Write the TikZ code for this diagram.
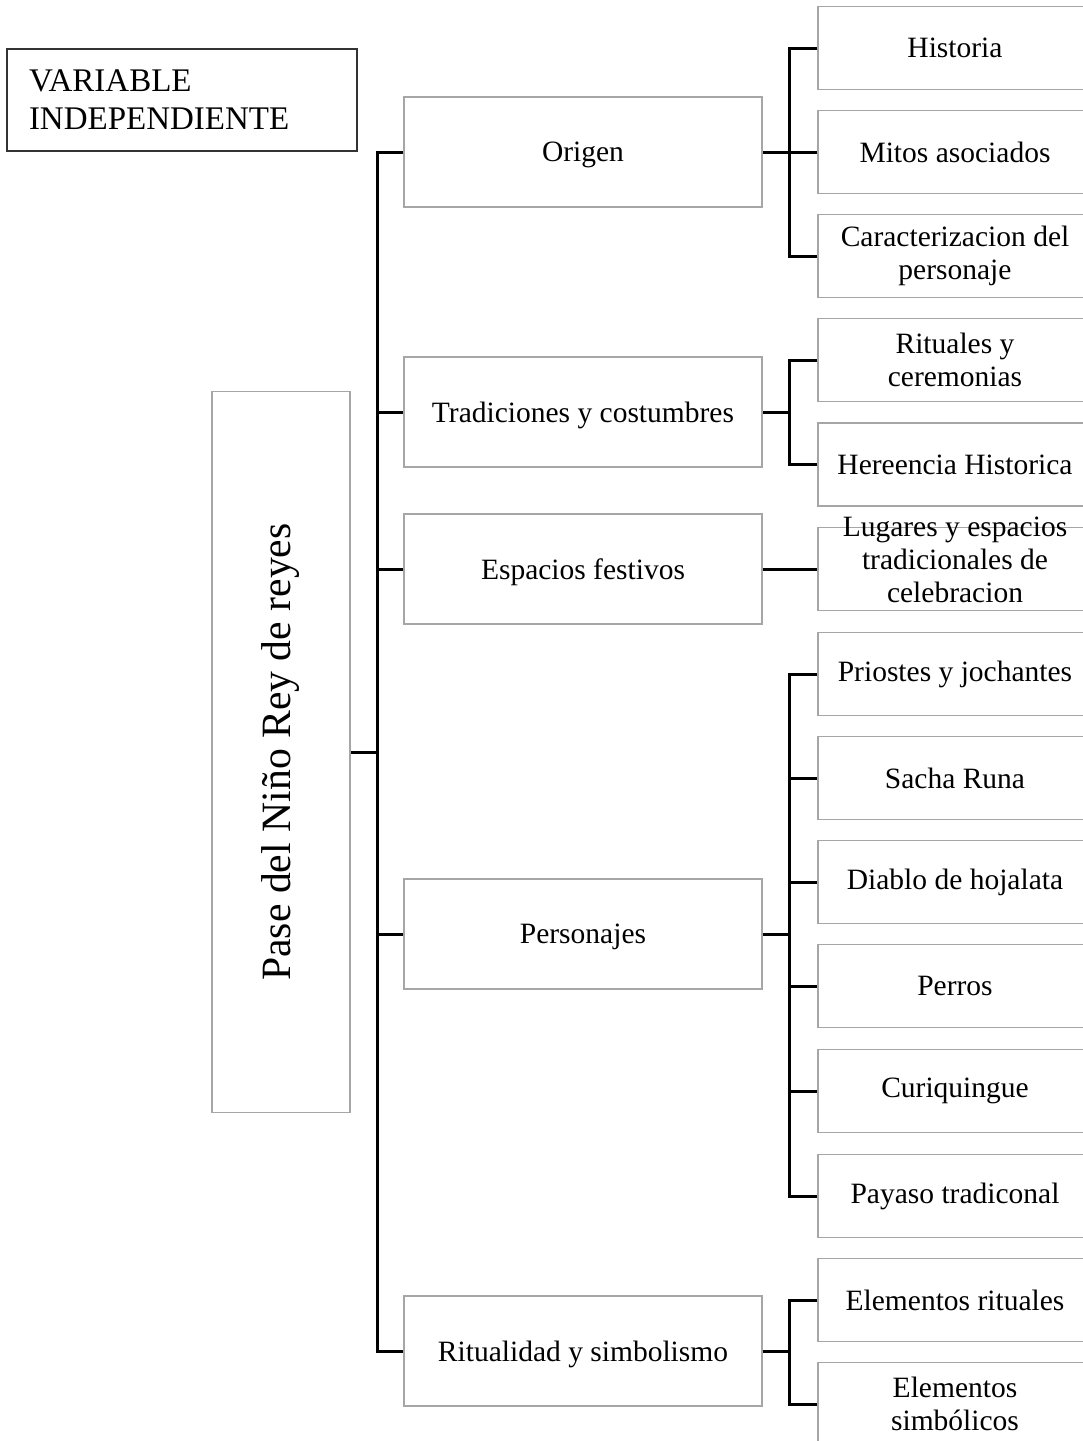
\documentclass[tikz,border=0pt]{standalone}
\usepackage{fontspec}
\setmainfont{Liberation Serif}

\tikzset{
  varbox/.style={rectangle,draw=black!80,line width=1.3pt,minimum width=350pt,minimum height=102pt,
    text width=306pt,inner xsep=22pt,align=left,font=\fontsize{33}{38}\selectfont},
  mainbox/.style={rectangle,draw=black!35,line width=1.8pt,minimum width=138pt,minimum height=721pt,
    inner sep=0pt,font=\fontsize{41.7}{46}\selectfont},
  midbox/.style={rectangle,draw=black!35,line width=1.8pt,minimum width=358pt,minimum height=110pt,
    inner sep=0pt,text depth=0pt,font=\fontsize{29.5}{33}\selectfont},
  subbox/.style={rectangle,draw=black!35,line width=1.8pt,minimum width=274pt,minimum height=83pt,
    inner sep=0pt,align=center,font=\fontsize{29.5}{33}\selectfont},
  link/.style={line width=3pt,black}
}

\begin{document}
\begin{tikzpicture}[x=1pt,y=-1pt]
\useasboundingbox (0,0) rectangle (1083,1441);
\clip (0,0) rectangle (1083,1441);

\node[varbox] (var) at (182,100) {VARIABLE\\INDEPENDIENTE};
\node[mainbox] (pase) at (281,752) {\rotatebox{90}{Pase del Niño Rey de reyes}};

\node[midbox] (orig) at (583,152) {Origen};
\node[midbox] (trad) at (583,412) {Tradiciones y costumbres};
\node[midbox] (espa) at (583,569) {Espacios festivos};
\node[midbox] (pers) at (583,934) {Personajes};
\node[midbox] (ritu) at (583,1351) {Ritualidad y simbolismo};

\node[subbox] (hist) at (955,48) {Historia};
\node[subbox] (mito) at (955,152) {Mitos asociados};
\node[subbox] (cara) at (955,256) {Caracterizacion del\\personaje};
\node[subbox] (rcer) at (955,360) {Rituales y\\ceremonias};
\node[subbox] (here) at (955,464.5) {Hereencia Historica};
\node[subbox] (luga) at (955,569) {\smash{\begin{tabular}{@{}c@{}}Lugares y espacios\\tradicionales de\\celebracion\end{tabular}}};
\node[subbox] (prio) at (955,674) {Priostes y jochantes};
\node[subbox] (sach) at (955,778) {Sacha Runa};
\node[subbox] (diab) at (955,882) {Diablo de hojalata};
\node[subbox] (perr) at (955,986) {Perros};
\node[subbox] (curi) at (955,1091) {Curiquingue};
\node[subbox] (paya) at (955,1196) {Payaso tradiconal};
\node[subbox] (erit) at (955,1300) {Elementos rituales};
\node[subbox] (esim) at (955,1404) {Elementos\\simbólicos};

\coordinate (jm) at (377,752);
\coordinate (jo) at (789,152);
\coordinate (jt) at (789,412);
\coordinate (jp) at (789,934);
\coordinate (jr) at (789,1351);

\draw[link] (pase.east) -- (jm);
\draw[link] (orig.west) -| (jm) |- (ritu.west);
\foreach \n in {trad,espa,pers}
  \draw[link] (jm |- \n.west) -- (\n.west);

\draw[link] (orig.east) -- (jo);
\draw[link] (hist.west) -| (jo) |- (cara.west);
\draw[link] (jo) -- (mito.west);

\draw[link] (trad.east) -- (jt);
\draw[link] (rcer.west) -| (jt) |- (here.west);

\draw[link] (espa.east) -- (luga.west);

\draw[link] (pers.east) -- (jp);
\draw[link] (prio.west) -| (jp) |- (paya.west);
\foreach \n in {sach,diab,perr,curi}
  \draw[link] (jp |- \n.west) -- (\n.west);

\draw[link] (ritu.east) -- (jr);
\draw[link] (erit.west) -| (jr) |- (esim.west);
\end{tikzpicture}
\end{document}
